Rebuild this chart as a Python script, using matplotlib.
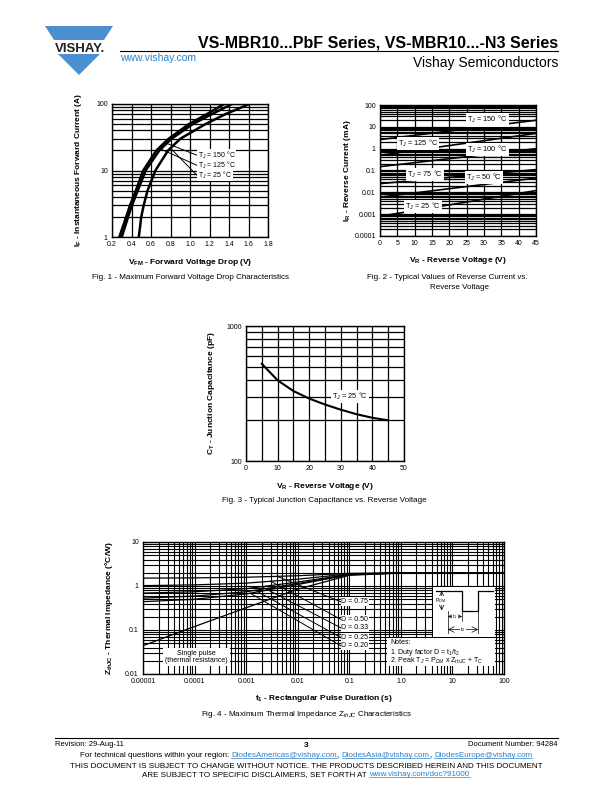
import numpy as np
import matplotlib.pyplot as plt
from matplotlib.patches import Polygon
from matplotlib.ticker import LogLocator, MultipleLocator, NullFormatter

plt.rcParams.update({
    "font.family": ["Liberation Sans", "DejaVu Sans"],
    "mathtext.fontset": "custom",
    "mathtext.rm": "Liberation Sans",
    "mathtext.it": "Liberation Sans:italic",
    "mathtext.bf": "Liberation Sans:bold",
    "axes.linewidth": 1.0,
})

BLUE = "#2b7fc8"
LOGO = "#4b8fd0"
TICK = 5.0
LABEL = 6.0

# ---- Fig. 1 forward voltage drop
if_current = [1, 2, 3, 5, 10, 20, 30, 50, 70, 100]
vf_150 = [0.275, 0.345, 0.385, 0.445, 0.52, 0.655, 0.78, 0.99, 1.17, 1.35]
vf_125 = [0.30, 0.365, 0.405, 0.465, 0.545, 0.685, 0.81, 1.03, 1.22, 1.43]
vf_25 = [0.475, 0.50, 0.525, 0.565, 0.645, 0.775, 0.90, 1.16, 1.36, 1.61]
fig1_temps = ["150", "125", "25"]

# ---- Fig. 2 reverse current (mA)
vr_line = [0, 45]
ir_150 = [2.6, 20]
ir_125 = [0.5, 5.0]
ir_100 = [0.15, 1.0]
ir_75 = [0.025, 0.11]
ir_50 = [0.006, 0.045]
ir_25 = [0.0008, 0.012]

# ---- Fig. 3 junction capacitance
cap_vr = [5, 10, 15, 20, 25, 30, 35, 40, 45]
cap_pf = [525, 396, 330, 290, 262, 240, 222, 209, 200]

# ---- Fig. 4 thermal impedance
t_pulse = [1e-5, 1e-4, 1e-3, 1e-2, 1e-1, 1, 10, 100]
z_single = [0.044, 0.12, 0.32, 0.85, 1.75, 1.97, 2.0, 2.0]
z_d75 = [1.51, 1.53, 1.58, 1.71, 1.94, 1.99, 2.0, 2.0]
z_d50 = [1.02, 1.06, 1.16, 1.43, 1.88, 1.99, 2.0, 2.0]
z_d33 = [0.69, 0.74, 0.87, 1.23, 1.83, 1.98, 2.0, 2.0]
z_d25 = [0.53, 0.59, 0.74, 1.14, 1.81, 1.98, 2.0, 2.0]
z_d20 = [0.44, 0.50, 0.66, 1.08, 1.80, 1.98, 2.0, 2.0]
duty_labels = ["0.75", "0.50", "0.33", "0.25", "0.20"]

W, H = 612, 792
fig = plt.figure(figsize=(W / 100, H / 100), dpi=100)
page = fig.add_axes([0, 0, 1, 1])
page.set_xlim(0, W)
page.set_ylim(H, 0)
page.axis("off")


def add_chart(l, t, r, b):
    ax = fig.add_axes([l / W, 1 - b / H, (r - l) / W, (b - t) / H])
    for s in ax.spines.values():
        s.set_color("black")
        s.set_linewidth(1.0)
    ax.tick_params(which="both", length=0, labelsize=TICK, pad=3)
    return ax


def log_grid(axis):
    axis.set_minor_locator(LogLocator(base=10, subs=np.arange(2, 10), numticks=100))
    axis.set_minor_formatter(NullFormatter())


def grid(ax, lw=0.9):
    ax.grid(True, which="both", color="black", linewidth=lw)
    ax.set_axisbelow(True)


def tag(ax, x, y, s, size=5.3, ha="left", pad=0.8):
    ax.text(x, y, s, fontsize=size, ha=ha, va="center", zorder=5,
            bbox=dict(facecolor="white", edgecolor="none", pad=pad))


def on_curve(xq, xs, ys):
    return 10 ** np.interp(xq, xs, np.log10(ys))


# ---------------- header ----------------
page.add_patch(Polygon([(45, 26), (113, 26), (104, 40), (54, 40)], closed=True,
                       facecolor=LOGO, edgecolor="none"))
page.add_patch(Polygon([(58, 54), (100, 54), (79, 75)], closed=True,
                       facecolor=LOGO, edgecolor="none"))
page.text(80, 51.5, "VISHAY.", fontsize=9.5, fontweight="bold", ha="center",
          va="baseline", color="#222222")
page.text(558, 47, "VS-MBR10...PbF Series, VS-MBR10...-N3 Series", fontsize=11.5,
          fontweight="bold", ha="right", va="baseline")
page.plot([120, 558], [51, 51], color="black", lw=0.8)
page.text(120, 61, "www.vishay.com", fontsize=7.5, color=BLUE, va="baseline")
page.text(558, 67, "Vishay Semiconductors", fontsize=10, ha="right", va="baseline")

# ---------------- Fig. 1 ----------------
ax1 = add_chart(112, 104, 268, 237)
ax1.set_yscale("log")
ax1.set_xlim(0.2, 1.8)
ax1.set_ylim(1, 100)
ax1.set_xticks(np.arange(0.2, 1.81, 0.2))
ax1.set_xticklabels([f"{v:.1f}" for v in np.arange(0.2, 1.81, 0.2)])
ax1.set_yticks([1, 10, 100])
ax1.set_yticklabels(["1", "10", "100"])
log_grid(ax1.yaxis)
grid(ax1)
for vf in (vf_150, vf_125, vf_25):
    ax1.plot(vf, if_current, color="black", lw=1.8)
label_y = [17.0, 12.0, 8.5]
lead_v = [0.74, 0.70, 0.80]
for temp, vf, ly, lv in zip(fig1_temps, (vf_150, vf_125, vf_25), label_y, lead_v):
    iy = 10 ** np.interp(lv, vf, np.log10(if_current))
    ax1.plot([lv, 1.07], [iy, ly], color="black", lw=0.7)
    tag(ax1, 1.08, ly, f"T$_J$ = {temp} °C", size=5.0, pad=0.3)
ax1.set_xlabel(r"V$_\mathbf{FM}$ - Forward Voltage Drop (V)", fontsize=LABEL,
               fontweight="bold", labelpad=6)
ax1.set_ylabel(r"I$_\mathbf{F}$ - Instantaneous Forward Current (A)", fontsize=LABEL,
               fontweight="bold", labelpad=9)
page.text(191, 279, "Fig. 1 - Maximum Forward Voltage Drop Characteristics",
          fontsize=5.8, ha="center", va="baseline")

# ---------------- Fig. 2 ----------------
ax2 = add_chart(380, 105, 536, 236)
ax2.set_yscale("log")
ax2.set_xlim(0, 45)
ax2.set_ylim(1e-4, 100)
ax2.set_xticks(np.arange(0, 46, 5))
ax2.set_yticks([1e-4, 1e-3, 1e-2, 1e-1, 1, 10, 100])
ax2.set_yticklabels(["0.0001", "0.001", "0.01", "0.1", "1", "10", "100"])
log_grid(ax2.yaxis)
grid(ax2)
for ir in (ir_150, ir_125, ir_100, ir_75, ir_50, ir_25):
    ax2.plot(vr_line, ir, color="black", lw=1.2)
tag(ax2, 31, 21, "T$_J$ = 150 °C", ha="center")
tag(ax2, 11, 1.7, "T$_J$ = 125 °C", ha="center")
tag(ax2, 31, 0.9, "T$_J$ = 100 °C", ha="center")
tag(ax2, 13, 0.066, "T$_J$ = 75 °C", ha="center")
tag(ax2, 30, 0.048, "T$_J$ = 50 °C", ha="center")
tag(ax2, 12.5, 0.0022, "T$_J$ = 25 °C", ha="center")
ax2.set_xlabel(r"V$_\mathbf{R}$ - Reverse Voltage (V)", fontsize=LABEL,
               fontweight="bold", labelpad=6)
ax2.set_ylabel(r"I$_\mathbf{R}$ - Reverse Current (mA)", fontsize=LABEL,
               fontweight="bold", labelpad=1)
page.text(447, 279, "Fig. 2 - Typical Values of Reverse Current vs.",
          fontsize=5.8, ha="center", va="baseline")
page.text(459, 289, "Reverse Voltage", fontsize=5.8, ha="center", va="baseline")

# ---------------- Fig. 3 ----------------
ax3 = add_chart(246, 326, 404, 461)
ax3.set_yscale("log")
ax3.set_xlim(0, 50)
ax3.set_ylim(100, 1000)
ax3.set_xticks(np.arange(0, 51, 10))
ax3.xaxis.set_minor_locator(MultipleLocator(5))
ax3.set_yticks([100, 1000])
ax3.set_yticklabels(["100", "1000"])
log_grid(ax3.yaxis)
grid(ax3)
ax3.plot(cap_vr, cap_pf, color="black", lw=1.5)
tag(ax3, 33, 301, "T$_J$ = 25 °C", ha="center")
ax3.set_xlabel(r"V$_\mathbf{R}$ - Reverse Voltage (V)", fontsize=LABEL,
               fontweight="bold", labelpad=6)
ax3.set_ylabel(r"C$_\mathbf{T}$ - Junction Capacitance (pF)", fontsize=LABEL,
               fontweight="bold", labelpad=7)
page.text(324, 502, "Fig. 3 - Typical Junction Capacitance vs. Reverse Voltage",
          fontsize=5.8, ha="center", va="baseline")

# ---------------- Fig. 4 ----------------
ax4 = add_chart(143, 542, 504, 674)
ax4.set_xscale("log")
ax4.set_yscale("log")
ax4.set_xlim(1e-5, 100)
ax4.set_ylim(0.01, 10)
ax4.set_xticks([1e-5, 1e-4, 1e-3, 1e-2, 1e-1, 1, 10, 100])
ax4.set_xticklabels(["0.00001", "0.0001", "0.001", "0.01", "0.1", "1.0", "10", "100"])
ax4.set_yticks([0.01, 0.1, 1, 10])
ax4.set_yticklabels(["0.01", "0.1", "1", "10"])
log_grid(ax4.xaxis)
log_grid(ax4.yaxis)
grid(ax4, lw=0.8)
duty_curves = [z_d75, z_d50, z_d33, z_d25, z_d20]
for z in duty_curves + [z_single]:
    ax4.plot(t_pulse, z, color="black", lw=0.9)
duty_label_z = [0.44, 0.175, 0.113, 0.068, 0.044]
lead_t = [0.004, 0.003, 0.002, 0.0015, 0.0012]
for d, z, lz, lt in zip(duty_labels, duty_curves, duty_label_z, lead_t):
    zz = on_curve(np.log10(lt), np.log10(t_pulse), z)
    ax4.plot([lt, 0.068], [zz, lz], color="black", lw=0.7)
    tag(ax4, 0.07, lz, f"D = {d}", size=5.0, pad=0.5)
ax4.text(1.1e-4, 0.0245, "Single pulse\n(thermal resistance)", fontsize=5.0,
         ha="center", va="center", linespacing=1.1, zorder=5,
         bbox=dict(facecolor="white", edgecolor="none", pad=1.5))
ax4.set_xlabel(r"t$_\mathbf{1}$ - Rectangular Pulse Duration (s)", fontsize=LABEL,
               fontweight="bold", labelpad=6)
ax4.set_ylabel(r"Z$_\mathbf{thJC}$ - Thermal Impedance (°C/W)", fontsize=LABEL,
               fontweight="bold", labelpad=7)
page.text(306, 716, r"Fig. 4 - Maximum Thermal Impedance Z$_{thJC}$ Characteristics",
          fontsize=5.8, ha="center", va="baseline")

# waveform inset
wave = fig.add_axes([433 / W, 1 - 637 / H, 62 / W, 50 / H])
wave.set_xlim(0, 1)
wave.set_ylim(0, 1)
wave.set_facecolor("white")
wave.set_xticks([])
wave.set_yticks([])
for s in wave.spines.values():
    s.set_visible(False)
wave.plot([0.05, 0.47, 0.47, 0.73, 0.73, 0.97], [0.92, 0.92, 0.53, 0.53, 0.92, 0.92],
          color="black", lw=0.9)
wave.annotate("", xy=(0.14, 0.92), xytext=(0.14, 0.53),
              arrowprops=dict(arrowstyle="<->", lw=0.5, shrinkA=0, shrinkB=0))
wave.text(0.03, 0.73, "P$_{DM}$", fontsize=3.8, ha="left", va="center",
          bbox=dict(facecolor="white", edgecolor="none", pad=0.2))
wave.plot([0.24, 0.24], [0.53, 0.08], color="black", lw=0.5)
wave.plot([0.47, 0.47], [0.53, 0.33], color="black", lw=0.5)
wave.plot([0.73, 0.73], [0.53, 0.08], color="black", lw=0.5)
wave.annotate("", xy=(0.24, 0.41), xytext=(0.47, 0.41),
              arrowprops=dict(arrowstyle="<->", lw=0.5, shrinkA=0, shrinkB=0))
wave.text(0.355, 0.41, "t$_1$", fontsize=3.8, ha="center", va="center",
          bbox=dict(facecolor="white", edgecolor="none", pad=0.2))
wave.annotate("", xy=(0.24, 0.15), xytext=(0.73, 0.15),
              arrowprops=dict(arrowstyle="<->", lw=0.5, shrinkA=0, shrinkB=0))
wave.text(0.485, 0.15, "t$_2$", fontsize=3.8, ha="center", va="center",
          bbox=dict(facecolor="white", edgecolor="none", pad=0.2))

# notes inset
notes = fig.add_axes([387 / W, 1 - 666 / H, 108 / W, 28 / H])
notes.set_facecolor("white")
notes.set_xticks([])
notes.set_yticks([])
for s in notes.spines.values():
    s.set_visible(False)
notes.text(0.03, 0.83, "Notes:", fontsize=5.0, va="center")
notes.text(0.03, 0.50, "1. Duty factor D = t$_1$/t$_2$", fontsize=5.0, va="center")
notes.text(0.03, 0.17, "2. Peak T$_J$ = P$_{DM}$ x Z$_{thJC}$ + T$_C$", fontsize=5.0,
           va="center")

# ---------------- footer ----------------
FOOT = 5.75
page.plot([55, 558], [738, 738], color="black", lw=0.8)
page.text(55, 746, "Revision: 29-Aug-11", fontsize=5.5, va="baseline")
page.text(306, 747, "3", fontsize=6, fontweight="bold", ha="center", va="baseline")
page.text(558, 746, "Document Number: 94284", fontsize=5.5, ha="right", va="baseline")

renderer = fig.canvas.get_renderer()


def run_width(s, size):
    t = page.text(0, 0, s + "|", fontsize=size)
    w = t.get_window_extent(renderer).width
    t.remove()
    b = page.text(0, 0, "|", fontsize=size)
    wb = b.get_window_extent(renderer).width
    b.remove()
    return w - wb


def text_runs(y, runs, size=FOOT, cx=306):
    widths = [run_width(s, size) for s, _, _ in runs]
    x = cx - sum(widths) / 2
    for (s, col, ul), w in zip(runs, widths):
        page.text(x, y, s, fontsize=size, color=col, va="baseline")
        if ul:
            page.plot([x, x + w], [y + 1.2, y + 1.2], color=col, lw=0.5)
        x += w


text_runs(757, [("For technical questions within your region: ", "black", False),
                ("DiodesAmericas@vishay.com", BLUE, True), (", ", "black", False),
                ("DiodesAsia@vishay.com", BLUE, True), (", ", "black", False),
                ("DiodesEurope@vishay.com", BLUE, True)])
page.text(306, 768, "THIS DOCUMENT IS SUBJECT TO CHANGE WITHOUT NOTICE. THE PRODUCTS "
          "DESCRIBED HEREIN AND THIS DOCUMENT", fontsize=FOOT, ha="center", va="baseline")
text_runs(776, [("ARE SUBJECT TO SPECIFIC DISCLAIMERS, SET FORTH AT ", "black", False),
                ("www.vishay.com/doc?91000", BLUE, True)])

fig.savefig("out.png", dpi=100)
